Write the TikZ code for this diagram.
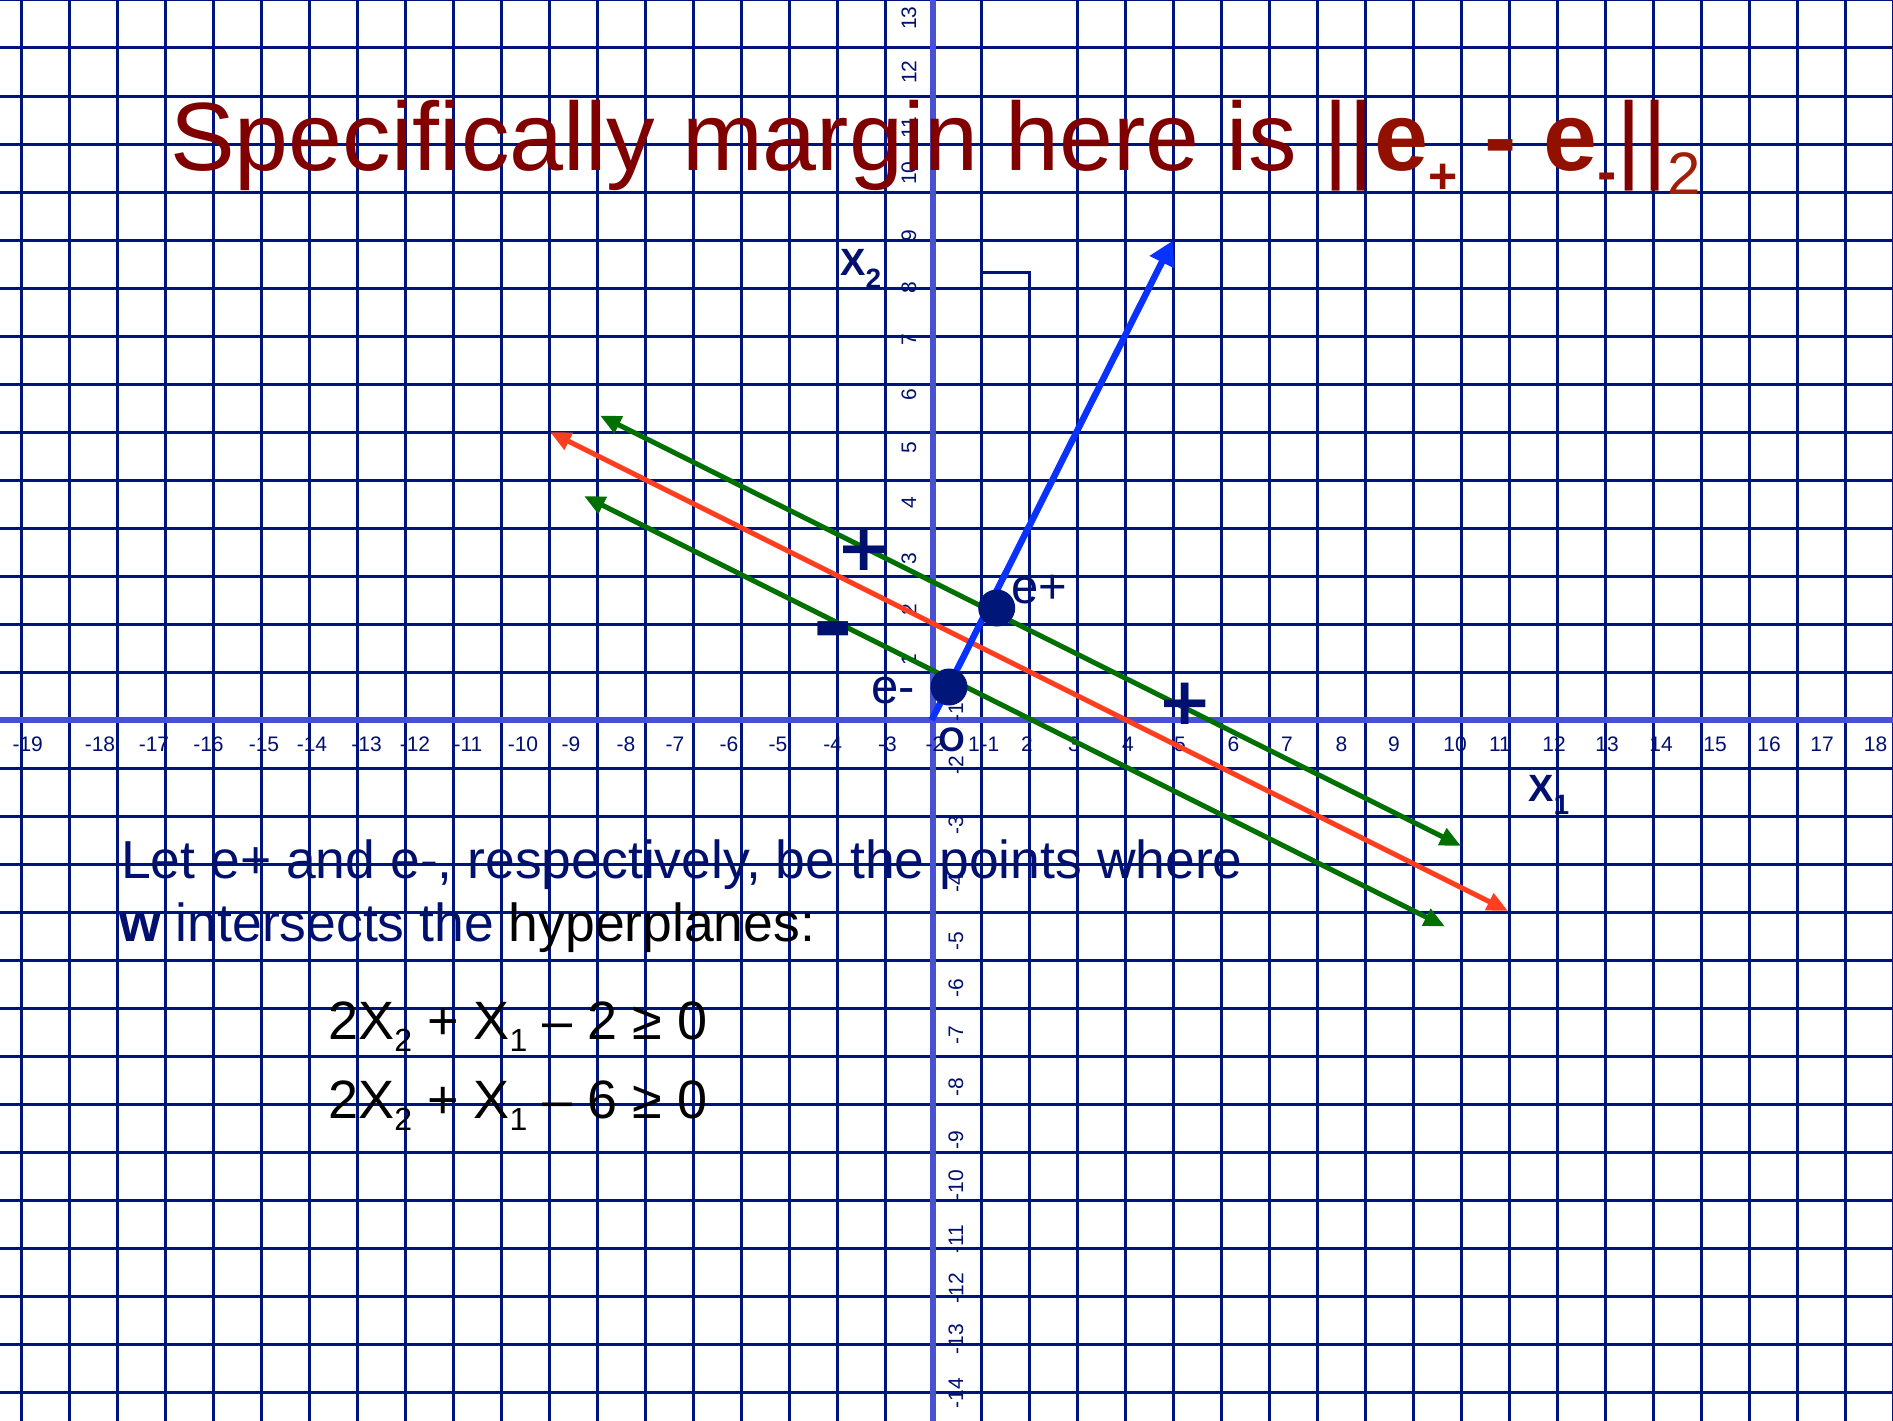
\documentclass[tikz,border=0pt]{standalone}
\usepackage{fontspec}
\setmainfont{Liberation Sans}
\newfontfamily\signfont{DejaVu Sans}
\usetikzlibrary{arrows.meta}
\definecolor{gridc}{RGB}{0,20,128}
\definecolor{axisc}{RGB}{72,80,214}
\definecolor{greenc}{RGB}{0,112,0}
\definecolor{redc}{RGB}{255,62,32}
\definecolor{bluec}{RGB}{10,50,255}
\definecolor{navy}{RGB}{0,16,110}
\definecolor{dotc}{RGB}{0,22,120}
\definecolor{titlec}{RGB}{128,0,0}
\definecolor{titleb}{RGB}{145,16,0}
\definecolor{titles}{RGB}{160,30,10}
\newcommand{\fsz}[1]{\fontsize{#1}{#1}\selectfont}
\begin{document}
\begin{tikzpicture}[x=1pt,y=-1pt,
  gridline/.style={draw=gridc,line width=3pt},
  axisline/.style={draw=axisc,line width=6pt},
  hyper/.style={draw=greenc,line width=5pt,{Triangle[length=21pt,width=18pt]}-{Triangle[length=21pt,width=18pt]}},
  sepline/.style={draw=redc,line width=5pt,{Triangle[length=21pt,width=18pt]}-{Triangle[length=21pt,width=18pt]}},
  wvec/.style={draw=bluec,line width=6.5pt,-{Triangle[length=24pt,width=26pt]}},
  dotstyle/.style={circle,fill=dotc,minimum size=37pt,inner sep=0pt},
  xtick/.style={text=navy,font=\fsz{21},inner sep=0pt,anchor=center},
  ytick/.style={text=navy,font=\fsz{21},inner sep=0pt,anchor=center,rotate=90},
  lab/.style={text=navy,inner sep=0pt,anchor=base west},
  signlab/.style={text=navy,inner sep=0pt,anchor=center}]
\useasboundingbox (0,0) rectangle (1893,1421);
\fill[white] (0,0) rectangle (1893,1421);
% grid
\foreach \k in {0,...,20} {\draw[gridline] (21+48*\k,0) -- (21+48*\k,1421);}
\foreach \k in {22,...,39} {\draw[gridline] (21+48*\k,0) -- (21+48*\k,1421);}
\foreach \k in {0,...,29} {\draw[gridline] (0,48*\k) -- (1893,48*\k);}
\coordinate (bkA) at (981,272);
\coordinate (bkB) at (1029,272);
\coordinate (bkC) at (1029,1421);
\draw[gridline] (bkA) -- (bkB) -- (bkC);
% axes
\coordinate (xl) at (0,720);
\coordinate (xr) at (1893,720);
\coordinate (yt) at (933,0);
\coordinate (yb) at (933,1421);
\draw[axisline] (xl) -- (xr);
\draw[axisline] (yt) -- (yb);
% x tick labels
\foreach \v/\x [count=\i] in {-19/27.7,-18/100,-17/154,-16/208.5,-15/264,-14/312,-13/366.6,-12/415,-11/468,-10/523,-9/571,-8/626,-7/675,-6/729,-5/778,-4/832.6,-3/887.5,-2/935,1/974,-1/990,2/1027,3/1074,4/1128,5/1180,6/1233.5,7/1287,8/1341.5,9/1394,10/1455,11/1500,12/1554,13/1607,14/1661,15/1715,16/1769,17/1822,18/1875.6}
  {\node[xtick] (xt\i) at (\x,744) {\v};}
% y tick labels
\foreach \v/\y [count=\i] in {13/18,12/72,11/128,10/173,9/236,8/288,7/340,6/395,5/448,4/503,3/559,2/610,1/660}
  {\node[ytick] (ytp\i) at (909,\y) {\v};}
\foreach \v/\y [count=\i] in {-1/712,-2/765,-3/825,-4/883,-5/941,-6/988,-7/1035,-8/1087,-9/1140,-10/1185,-11/1239,-12/1288,-13/1339,-14/1393}
  {\node[ytick] (ytn\i) at (956,\y) {\v};}
% hyperplanes
\coordinate (gaL) at (600,415.5);
\coordinate (gaR) at (1461,846);
\coordinate (rL) at (550,432);
\coordinate (rR) at (1508,911);
\coordinate (gbL) at (584,496);
\coordinate (gbR) at (1445,926.5);
\draw[hyper] (gaL) -- (gaR);
\draw[sepline] (rL) -- (rR);
\draw[hyper] (gbL) -- (gbR);
% w vector
\coordinate (O) at (931.7,720);
\coordinate (wtip) at (1172.7,240.7);
\draw[wvec] (O) -- (wtip);
% points
\node[dotstyle] (eplus) at (996.7,608) {};
\node[dotstyle] (eminus) at (949,687) {};
\node[lab,font=\fsz{49}] (eplusl) at (1011,603) {e+};
\node[lab,font=\fsz{49}] (eminusl) at (871,703) {e-};
\node[signlab,font=\bfseries\fsz{34}] (olab) at (951.5,740) {O};
% signs
\node[signlab,font=\signfont\bfseries\fsz{66}] (plus1) at (864.5,550) {+};
\node[signlab,font=\signfont\bfseries\fsz{66}] (plus2) at (1185.5,704) {+};
\node[text=navy,inner sep=0pt,anchor=base,font=\signfont\bfseries\fsz{100}] (minus1) at (833.5,657) {-};
% axis names
\node[lab,font=\bfseries\fsz{38}] (x2lab) at (840,275) {X\raisebox{-13pt}{\fsz{28}2}};
\node[lab,font=\bfseries\fsz{38}] (x1lab) at (1528,801) {X\raisebox{-13pt}{\fsz{28}1}};
% title
\node[lab,text=titlec,font=\fsz{97}] (title) at (170,170)
  {Specifically margin here is ||{\bfseries\color{titleb}e\raisebox{-23pt}{\fsz{50}+} - e\raisebox{-21pt}{\fsz{58}-}}||\raisebox{-24pt}{\color{titles}\fsz{60}2}};
% explanation
\node[lab,font=\fsz{53.5}] (txt1) at (121,878) {Let e+ and e-, respectively, be the points where};
\node[lab,font=\fsz{53.5}] (txt2) at (119,941.7) {\textbf{w} intersects the \textcolor{black}{hyperplanes:}};
\node[lab,text=black,font=\fsz{54}] (eq1) at (328,1039) {2X\raisebox{-12pt}{\fsz{32}2} + X\raisebox{-12pt}{\fsz{32}1} – 2 ≥ 0};
\node[lab,text=black,font=\fsz{54}] (eq2) at (328,1118) {2X\raisebox{-12pt}{\fsz{32}2} + X\raisebox{-12pt}{\fsz{32}1} – 6 ≥ 0};
\end{tikzpicture}
\end{document}
